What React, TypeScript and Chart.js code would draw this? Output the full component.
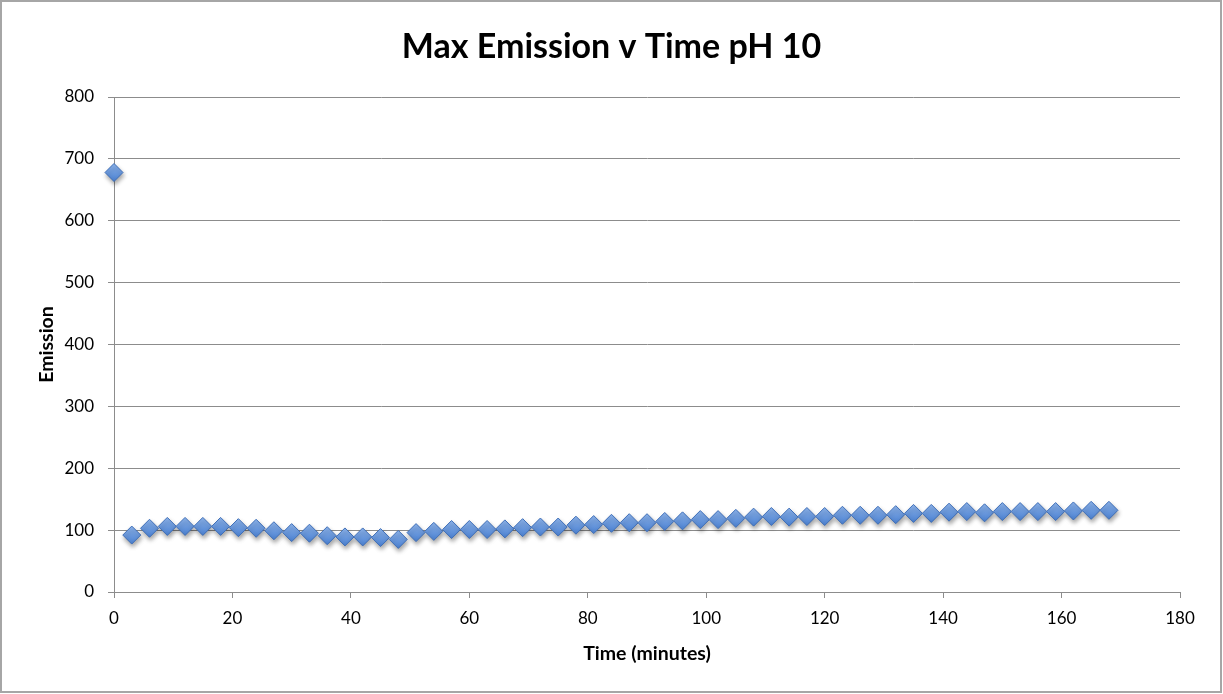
import React, { useEffect, useRef } from "react";
import { Chart, registerables } from "chart.js";

Chart.register(...registerables);

const titleText = "Max Emission v Time pH 10";
const times = [
  0, 3, 6, 9, 12, 15, 18, 21, 24, 27, 30, 33, 36, 39, 42, 45, 48, 51, 54, 57,
  60, 63, 66, 69, 72, 75, 78, 81, 84, 87, 90, 93, 96, 99, 102, 105, 108, 111,
  114, 117, 120, 123, 126, 129, 132, 135, 138, 141, 144, 147, 150, 153, 156,
  159, 162, 165, 168,
];
const emission = [
  678, 92, 103, 106, 106, 106, 106, 104, 103, 99, 96, 95, 91, 89, 89, 88, 85,
  96, 98, 101, 101, 101, 102, 104, 105, 105, 108, 109, 111, 112, 112, 114, 115,
  117, 117, 119, 121, 122, 121, 122, 122, 124, 124, 124, 125, 127, 127, 129,
  130, 128, 130, 130, 130, 130, 131, 132, 132,
];
const xTicks = [0, 20, 40, 60, 80, 100, 120, 140, 160, 180];
const yTicks = [0, 100, 200, 300, 400, 500, 600, 700, 800];

const FONT = "Lato, 'Open Sans', sans-serif";

export default function App() {
  const ref = useRef<HTMLCanvasElement | null>(null);
  useEffect(() => {
    document.body.style.margin = "0";
    const canvas = ref.current!;
    const framePlugin = {
      id: "frame",
      beforeDraw(chart: any) {
        const ctx = chart.ctx;
        ctx.save();
        ctx.fillStyle = "#ffffff";
        ctx.fillRect(0, 0, chart.width, chart.height);
        ctx.strokeStyle = "#a6a6a6";
        ctx.lineWidth = 2;
        ctx.strokeRect(1, 1, chart.width - 3, chart.height - 3);
        ctx.fillStyle = "#000";
        ctx.font = `bold 34px ${FONT}`;
        ctx.textAlign = "center";
        ctx.textBaseline = "middle";
        ctx.fillText(titleText, chart.width / 2, 47);
        ctx.restore();
      },
      beforeDatasetsDraw(chart: any) {
        const ctx = chart.ctx;
        ctx.save();
        ctx.shadowColor = "rgba(0,0,0,0.35)";
        ctx.shadowBlur = 4;
        ctx.shadowOffsetX = 1;
        ctx.shadowOffsetY = 3;
      },
      afterDatasetsDraw(chart: any) {
        chart.ctx.restore();
      },
    };
    const chart = new Chart(canvas, {
      type: "scatter",
      data: {
        datasets: [
          {
            label: "Emission",
            data: times.map((t, i) => ({ x: t, y: emission[i] })),
            pointStyle: "rectRot",
            pointRadius: 9,
            pointHoverRadius: 9,
            backgroundColor: (c: any) => {
              const { ctx, chartArea } = c.chart;
              if (!chartArea) return "#6a9be0";
              const el = c.element;
              const y = el && typeof el.y === "number" ? el.y : 0;
              const g = ctx.createLinearGradient(0, y - 9, 0, y + 9);
              g.addColorStop(0, "#8db4ec");
              g.addColorStop(1, "#4a80d0");
              return g;
            },
            borderColor: "#3f6fb8",
            borderWidth: 1,
            clip: false as any,
          },
        ],
      },
      plugins: [framePlugin],
      options: {
        animation: false,
        responsive: false,
        layout: { padding: { left: 0, right: 43, top: 97, bottom: 0 } },
        plugins: {
          legend: { display: false },
          tooltip: { enabled: false },
          title: { display: false },
        },
        scales: {
          x: {
            type: "linear",
            min: 0,
            max: 180,
            afterBuildTicks: (s: any) => {
              s.ticks = xTicks.map((v) => ({ value: v }));
            },
            afterFit: (s: any) => {
              s.height = 102;
            },
            grid: {
              drawOnChartArea: false,
              drawTicks: true,
              tickLength: 6,
              color: "#8c8c8c",
            },
            border: { color: "#8c8c8c", width: 1 },
            ticks: {
              color: "#000",
              font: { family: FONT, size: 17 },
              padding: 10,
              maxRotation: 0,
            },
            title: {
              display: true,
              text: "Time (minutes)",
              color: "#000",
              font: { family: FONT, size: 19.5, weight: "bold" },
              padding: { top: 4, bottom: 29 },
            },
          },
          y: {
            type: "linear",
            min: 0,
            max: 800,
            afterBuildTicks: (s: any) => {
              s.ticks = yTicks.map((v) => ({ value: v }));
            },
            afterFit: (s: any) => {
              s.width = 114;
            },
            grid: {
              drawOnChartArea: true,
              drawTicks: true,
              tickLength: 6,
              color: "#8c8c8c",
            },
            border: { color: "#8c8c8c", width: 1 },
            ticks: {
              color: "#000",
              font: { family: FONT, size: 17 },
              padding: 14,
            },
            title: {
              display: true,
              text: "Emission",
              color: "#000",
              font: { family: FONT, size: 19.5, weight: "bold" },
              padding: { top: 35, bottom: 4 },
            },
          },
        },
      },
    });
    return () => chart.destroy();
  }, []);
  return (
    <div style={{ position: "absolute", left: 0, top: 0, width: 1223, height: 694 }}>
      <canvas ref={ref} width={1223} height={694} />
    </div>
  );
}
